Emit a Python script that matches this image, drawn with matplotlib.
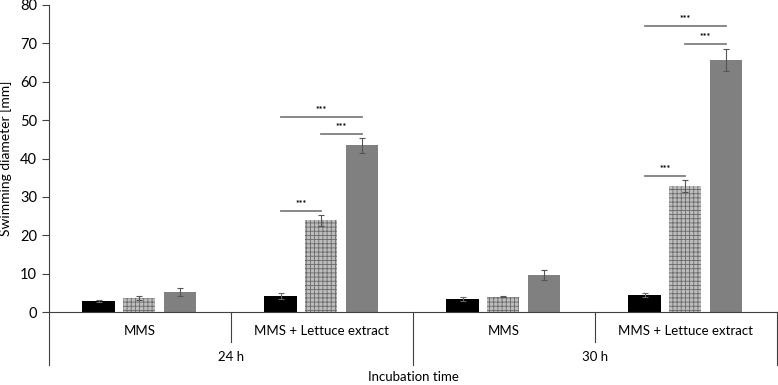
import matplotlib.pyplot as plt
from matplotlib.transforms import blended_transform_factory

plt.rc('font', family=['Lato', 'DejaVu Sans'])
plt.rcParams['hatch.linewidth'] = 0.6

# groups: 24 h MMS, 24 h MMS+Lettuce, 30 h MMS, 30 h MMS+Lettuce
media = ['MMS', 'MMS + Lettuce extract', 'MMS', 'MMS + Lettuce extract']
times = ['24 h', '30 h']
black_vals = [2.9, 4.2, 3.4, 4.5]
black_err = [0.2, 0.8, 0.5, 0.5]
hatch_vals = [3.7, 23.9, 4.0, 32.9]
hatch_err = [0.5, 1.5, 0.1, 1.5]
gray_vals = [5.2, 43.4, 9.7, 65.7]
gray_err = [1.0, 2.0, 1.3, 2.8]

# significance: (group, bar_a, bar_b, height)
sig = [(1, 0, 1, 26.3), (1, 1, 2, 46.4), (1, 0, 2, 50.8),
       (3, 0, 1, 35.4), (3, 1, 2, 69.8), (3, 0, 2, 74.5)]

fig = plt.figure(figsize=(7.78, 3.85), dpi=100)
ax = fig.add_axes([49/778, 1 - 312/385, 728/778, 307/385])

offs = [0.272, 0.495, 0.72]
w = 0.176
xs = [[i + o for i in range(4)] for o in offs]

ax.bar(xs[0], black_vals, w, color='black', yerr=black_err,
       error_kw=dict(ecolor='#666666', elinewidth=0.8, capsize=2, capthick=0.8))
ax.bar(xs[1], hatch_vals, w, color='#bdbdbd', edgecolor='#6a6a6a', linewidth=0,
       hatch='++++', yerr=hatch_err,
       error_kw=dict(ecolor='#555555', elinewidth=0.8, capsize=2, capthick=0.8))
ax.bar(xs[2], gray_vals, w, color='#808080', yerr=gray_err,
       error_kw=dict(ecolor='#555555', elinewidth=0.8, capsize=2, capthick=0.8))

for g, a, b, h in sig:
    x1 = g + offs[a]
    x2 = g + offs[b]
    ax.plot([x1, x2], [h, h], color='#7f7f7f', lw=1.3)
    ax.text((x1 + x2) / 2, h + 0.5, '***', ha='center', va='bottom', fontsize=6.5,
            fontweight='bold')

ax.set_xlim(0, 4)
ax.set_ylim(0, 80)
ax.set_yticks(range(0, 81, 10))
ax.tick_params(axis='y', labelsize=10.5, length=5, width=0.8, colors='#404040',
               labelcolor='black')
ax.set_xticks([])
for s in ['top', 'right']:
    ax.spines[s].set_visible(False)
ax.spines['left'].set_color('#404040')
ax.spines['bottom'].set_color('#404040')
ax.spines['left'].set_linewidth(0.8)
ax.spines['bottom'].set_linewidth(0.8)

tr = blended_transform_factory(ax.transData, ax.transAxes)
px = 1 / 307
# separators under the axis
for x in [1, 3]:
    ax.plot([x, x], [0, -30 * px], color='#404040', lw=0.8, transform=tr, clip_on=False)
for x in [0, 2, 4]:
    ax.plot([x, x], [0, -53 * px], color='#404040', lw=0.8, transform=tr, clip_on=False)
for i, m in enumerate(media):
    ax.text(i + 0.5, -19 * px, m, ha='center', va='center', fontsize=9.5, transform=tr)
for i, t in enumerate(times):
    ax.text(2 * i + 1, -45 * px, t, ha='center', va='center', fontsize=9.5, transform=tr)
ax.text(2, -65 * px, 'Incubation time', ha='center', va='center', fontsize=9.5, transform=tr)

ax.set_ylabel('Swimming diameter [mm]', fontsize=10)
ax.yaxis.set_label_coords(-37 / 728, 0.5)

fig.savefig('out.png', dpi=100)
